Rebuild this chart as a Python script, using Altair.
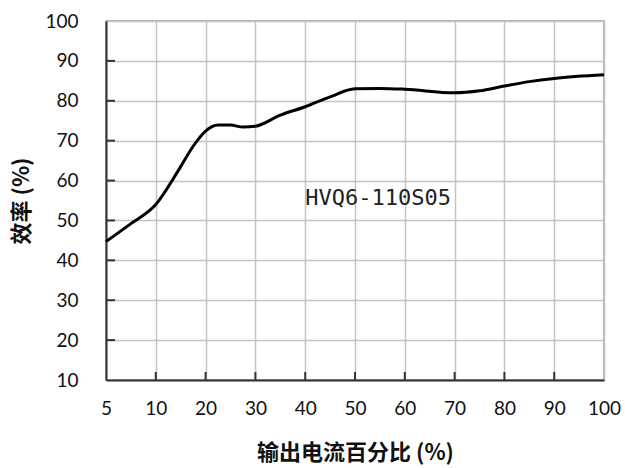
import altair as alt
import pandas as pd

# X axis tick labels (evenly spaced categories on the axis)
x_ticks = [5, 10, 20, 30, 40, 50, 60, 70, 80, 90, 100]
y_ticks = [10, 20, 30, 40, 50, 60, 70, 80, 90, 100]

# Curve: load %, efficiency %
load = [5, 7.5, 10, 15, 17.5, 20, 22.5, 25, 27.5, 30, 35, 40, 45, 50, 55, 60, 70, 75, 80, 85, 90, 100]
eff = [44.7, 49.2, 54.0, 63.5, 68.6, 72.4, 73.9, 73.9, 73.4, 73.6, 76.4, 78.5, 81.0, 83.0, 83.1, 82.9,
       82.0, 82.5, 83.7, 84.8, 85.6, 86.5]

label_text = "HVQ6-110S05"
label_load = 40
label_eff = 55.6


def to_index(v):
    # axis positions are evenly spaced between listed tick values
    for i in range(len(x_ticks) - 1):
        a, b = x_ticks[i], x_ticks[i + 1]
        if a <= v <= b:
            return i + (v - a) / (b - a)
    return len(x_ticks) - 1


df = pd.DataFrame({"idx": [to_index(v) for v in load], "eff": eff, "load": load})
lab = pd.DataFrame({"idx": [to_index(label_load)], "eff": [label_eff], "text": [label_text]})
ytk = pd.DataFrame({"eff": y_ticks[1:-1]})
xtk = pd.DataFrame({"idx": list(range(1, len(x_ticks) - 1))})

W, H = 498, 359
label_expr = "[" + ",".join("'%d'" % v for v in x_ticks) + "][datum.value]"

xscale = alt.Scale(domain=[0, len(x_ticks) - 1], nice=False, zero=False)
yscale = alt.Scale(domain=[10, 100], nice=False, zero=False)

FONT = "Lato"
CJK = "Noto Sans CJK SC"

x_axis = alt.Axis(
    values=list(range(len(x_ticks))),
    labelExpr=label_expr,
    labelOverlap=False,
    labelFlush=False,
    title="输出电流百分比 (%)",
    titleFont=CJK, titleFontSize=22, titleFontWeight="bold", titleColor="#111",
    titlePadding=24,
    labelFont=FONT, labelFontSize=19, labelColor="#111", labelPadding=19,
    ticks=False, grid=True, gridColor="#c4c4c4", gridWidth=1.5,
    domainColor="#333", domainWidth=2,
)
y_axis = alt.Axis(
    values=y_ticks,
    labelOverlap=False,
    labelFlush=False,
    title="效率 (%)",
    titleFont=CJK, titleFontSize=22, titleFontWeight="bold", titleColor="#111",
    titlePadding=11,
    labelFont=FONT, labelFontSize=19, labelColor="#111", labelPadding=28,
    ticks=False, grid=True, gridColor="#c4c4c4", gridWidth=1.5,
    domainColor="#333", domainWidth=2,
)

X = lambda: alt.X("idx:Q", scale=xscale, axis=x_axis)
Y = lambda: alt.Y("eff:Q", scale=yscale, axis=y_axis)

line = alt.Chart(df).mark_line(color="#000", strokeWidth=3, interpolate="monotone").encode(
    x=X(), y=Y(),
)

ytick_rules = alt.Chart(ytk).mark_rule(color="#333", strokeWidth=2).encode(
    y=Y(),
    x=alt.value(0), x2=alt.value(9),
)
xtick_rules = alt.Chart(xtk).mark_rule(color="#333", strokeWidth=2).encode(
    x=X(),
    y=alt.value(H - 8), y2=alt.value(H),
)

text = alt.Chart(lab).mark_text(
    align="left", baseline="middle", font="DejaVu Sans Mono", fontSize=22, color="#222"
).encode(
    x=X(), y=Y(),
    text="text:N",
)

chart = alt.layer(line, ytick_rules, xtick_rules, text).properties(
    width=W, height=H,
    autosize=alt.AutoSizeParams(type="none"),
    padding={"left": 106, "top": 21, "right": 21, "bottom": 88},
    background="white",
).configure_view(stroke="#9a9a9a", strokeWidth=1.5)

chart.save("out.html", embed_options={"renderer": "svg", "actions": False})
